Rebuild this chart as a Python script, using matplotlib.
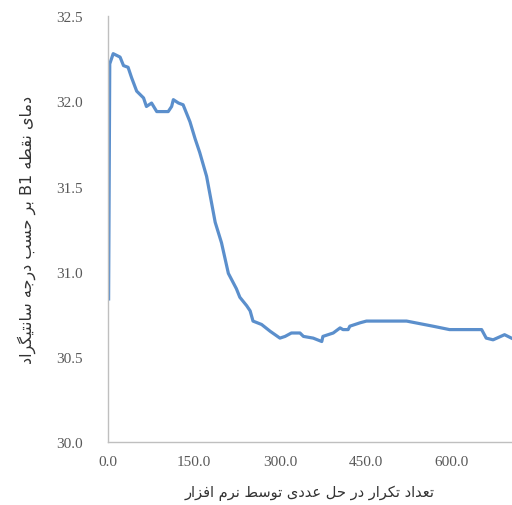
import matplotlib
matplotlib.use('Agg')
import matplotlib.pyplot as plt

# iteration number vs temperature at B1
iters = [1, 3, 9, 21, 27, 35, 41, 50, 62, 67, 76, 85, 105, 111, 114, 123, 131,
         143, 152, 160, 172, 187, 198, 210, 224, 230, 242, 248, 253, 268, 283,
         300, 309, 320, 335, 341, 358, 373, 375, 393, 405, 410, 419, 422, 440,
         451, 521, 567, 596, 652, 660, 672, 692, 704]
temp = [30.84, 32.22, 32.28, 32.26, 32.21, 32.20, 32.14, 32.06, 32.02, 31.97,
        31.99, 31.94, 31.94, 31.97, 32.01, 31.99, 31.98, 31.88, 31.78, 31.70,
        31.56, 31.29, 31.17, 30.99, 30.90, 30.85, 30.80, 30.77, 30.71, 30.69,
        30.65, 30.61, 30.62, 30.64, 30.64, 30.62, 30.61, 30.59, 30.62, 30.64,
        30.67, 30.66, 30.66, 30.68, 30.70, 30.71, 30.71, 30.68, 30.66, 30.66,
        30.61, 30.60, 30.63, 30.61]

yticks = [30.0, 30.5, 31.0, 31.5, 32.0, 32.5]
xticks = [0, 150, 300, 450, 600]

ylab = 'دمای نقطه B1 بر حسب درجه سانتیگراد'
xlab = 'تعداد تکرار در حل عددی توسط نرم افزار'

# simple arabic/persian shaping: iso, fin, ini, med
forms = {
    'ا': ('\uFE8D', '\uFE8E', None, None),
    'ب': ('\uFE8F', '\uFE90', '\uFE91', '\uFE92'),
    'ت': ('\uFE95', '\uFE96', '\uFE97', '\uFE98'),
    'ج': ('\uFE9D', '\uFE9E', '\uFE9F', '\uFEA0'),
    'ح': ('\uFEA1', '\uFEA2', '\uFEA3', '\uFEA4'),
    'د': ('\uFEA9', '\uFEAA', None, None),
    'ر': ('\uFEAD', '\uFEAE', None, None),
    'ز': ('\uFEAF', '\uFEB0', None, None),
    'س': ('\uFEB1', '\uFEB2', '\uFEB3', '\uFEB4'),
    'ط': ('\uFEC1', '\uFEC2', '\uFEC3', '\uFEC4'),
    'ع': ('\uFEC9', '\uFECA', '\uFECB', '\uFECC'),
    'ف': ('\uFED1', '\uFED2', '\uFED3', '\uFED4'),
    'ق': ('\uFED5', '\uFED6', '\uFED7', '\uFED8'),
    'ل': ('\uFEDD', '\uFEDE', '\uFEDF', '\uFEE0'),
    'م': ('\uFEE1', '\uFEE2', '\uFEE3', '\uFEE4'),
    'ن': ('\uFEE5', '\uFEE6', '\uFEE7', '\uFEE8'),
    'ه': ('\uFEE9', '\uFEEA', '\uFEEB', '\uFEEC'),
    'و': ('\uFEED', '\uFEEE', None, None),
    'ی': ('\uFBFC', '\uFBFD', '\uFBFE', '\uFBFF'),
    'ک': ('\uFB8E', '\uFB8F', '\uFB90', '\uFB91'),
    'گ': ('\uFB92', '\uFB93', '\uFB94', '\uFB95'),
}


def shape_word(w):
    if w[0] not in forms:
        return w
    out = []
    for i, c in enumerate(w):
        prev_joins = i > 0 and forms[w[i-1]][2] is not None
        next_ok = i < len(w) - 1 and forms[c][2] is not None
        if prev_joins and next_ok:
            out.append(forms[c][3])
        elif prev_joins:
            out.append(forms[c][1])
        elif next_ok:
            out.append(forms[c][2])
        else:
            out.append(forms[c][0])
    return ''.join(out[::-1])


def rtl(s):
    return ' '.join(shape_word(w) for w in s.split(' ')[::-1])


fig = plt.figure(figsize=(5.12, 5.06), dpi=100)
ax = fig.add_axes([0.211, 0.1245, 0.789, 0.8415])

ax.plot(iters, temp, color='#5b8fcc', lw=2.3, solid_joinstyle='round')

ax.set_xlim(0, 705)
ax.set_ylim(30.0, 32.5)
ax.set_xticks(xticks)
ax.set_xticklabels(['%.1f' % t for t in xticks])
ax.set_yticks(yticks)
ax.set_yticklabels(['%.1f' % t for t in yticks])

for s in ['top', 'right']:
    ax.spines[s].set_visible(False)
for s in ['left', 'bottom']:
    ax.spines[s].set_color('#bfbfbf')
    ax.spines[s].set_linewidth(1.0)

ax.tick_params(axis='both', length=0, colors='#595959', labelsize=11)
ax.tick_params(axis='y', pad=18)
ax.tick_params(axis='x', pad=9)
for lab in ax.get_xticklabels() + ax.get_yticklabels():
    lab.set_family('Liberation Serif')

ax.set_ylabel(rtl(ylab), fontsize=11.5, family='DejaVu Sans', color='#333333')
ax.set_xlabel(rtl(xlab), fontsize=10.5, family='DejaVu Sans', color='#333333')
ax.yaxis.set_label_coords(-0.178, 0.5)
ax.xaxis.set_label_coords(0.5, -0.1)

plt.savefig('out.png', dpi=100)
